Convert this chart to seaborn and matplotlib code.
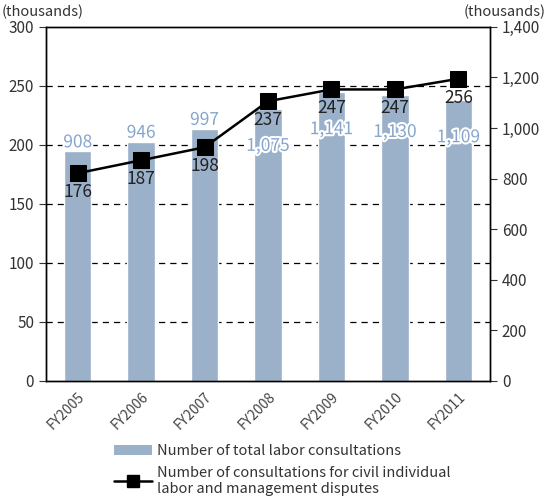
import matplotlib
matplotlib.use("Agg")
import matplotlib.pyplot as plt
import seaborn as sns
import pandas as pd
from matplotlib.lines import Line2D
from matplotlib.patches import Patch
import matplotlib.patheffects as pe

years = ["FY2005", "FY2006", "FY2007", "FY2008", "FY2009", "FY2010", "FY2011"]
total_consult = [908, 946, 997, 1075, 1141, 1130, 1109]
dispute_consult = [176, 187, 198, 237, 247, 247, 256]

df = pd.DataFrame({"year": years, "total": total_consult, "disputes": dispute_consult})

sns.set_style("white")
plt.rcParams["font.family"] = ["Noto Sans CJK JP", "DejaVu Sans"]

bar_color = "#9bb0c9"
label_blue = "#86a5cc"

fig = plt.figure(figsize=(5.47, 4.98), dpi=100)
ax = fig.add_axes([0.084, 0.235, 0.812, 0.711])
ax2 = ax.twinx()

# dashed grid sits behind the bars
for y in range(50, 300, 50):
    ax2.axhline(y * 1400 / 300, color="black", linestyle=(0, (5, 4)),
                linewidth=0.9, zorder=0)

# bars on the right axis
sns.barplot(data=df, x="year", y="total", ax=ax2, color=bar_color, width=0.43,
            saturation=1, zorder=2)
ax2.set_ylim(0, 1400)
ax2.set_yticks(range(0, 1401, 200))
ax2.set_yticklabels([f"{v:,}" for v in range(0, 1401, 200)])
ax2.set_ylabel("")
ax2.set_xlabel("")

# line on the left axis, drawn above the bars
ax.set_zorder(ax2.get_zorder() + 1)
ax.patch.set_visible(False)
sns.lineplot(data=df, x="year", y="disputes", ax=ax, color="black", marker="s",
             markersize=11, linewidth=1.8, markeredgecolor="black", sort=False)
ax.set_ylim(0, 300)
ax.set_yticks(range(0, 301, 50))
ax.set_xlim(-0.5, len(years) - 0.5)
ax.set_ylabel("")
ax.set_xlabel("")

# value labels
for i, v in enumerate(total_consult):
    off = 0 if v < 1000 else -20
    ax2.annotate(f"{v:,}", (i, v), xytext=(0, off), textcoords="offset points",
                 ha="center", va="bottom" if off >= 0 else "top", fontsize=12.5,
                 color=label_blue,
                 path_effects=[pe.withStroke(linewidth=3, foreground="white")])
for i, v in enumerate(dispute_consult):
    ax.annotate(str(v), (i, v), xytext=(0, -7), textcoords="offset points",
                ha="center", va="top", fontsize=12.5, color="#222222")

# ticks
ax.set_xticks(range(len(years)))
ax.set_xticklabels(years, rotation=45, ha="right", rotation_mode="anchor",
                   fontsize=10, color="#444444")
ax.set_xticks([i + 0.5 for i in range(len(years) - 1)], minor=True)
ax.tick_params(axis="x", which="major", length=0, pad=6)
ax.tick_params(axis="x", which="minor", length=4, direction="in", color="#444444")
ax.tick_params(axis="y", length=5, direction="out", labelsize=11, colors="#333333")
ax2.tick_params(axis="y", length=5, direction="out", labelsize=11, colors="#333333")
ax2.tick_params(axis="x", length=0)

for a in (ax, ax2):
    for s in a.spines.values():
        s.set_color("black")
        s.set_linewidth(1.0)

fig.text(0.003, 0.968, "(thousands)", fontsize=10.5, color="#333333", ha="left", va="baseline")
fig.text(0.997, 0.968, "(thousands)", fontsize=10.5, color="#333333", ha="right", va="baseline")

handles = [Patch(facecolor=bar_color, edgecolor="none"),
           Line2D([0], [0], color="black", marker="s", markersize=8, linewidth=1.8)]
labels = ["Number of total labor consultations",
          "Number of consultations for civil individual\nlabor and management disputes"]
fig.legend(handles, labels, loc="lower left", bbox_to_anchor=(0.185, -0.022),
           frameon=False, fontsize=10.5, handlelength=2.6, handletextpad=0.3,
           labelspacing=0.5, labelcolor="#333333")

fig.savefig("out.png", dpi=100)
